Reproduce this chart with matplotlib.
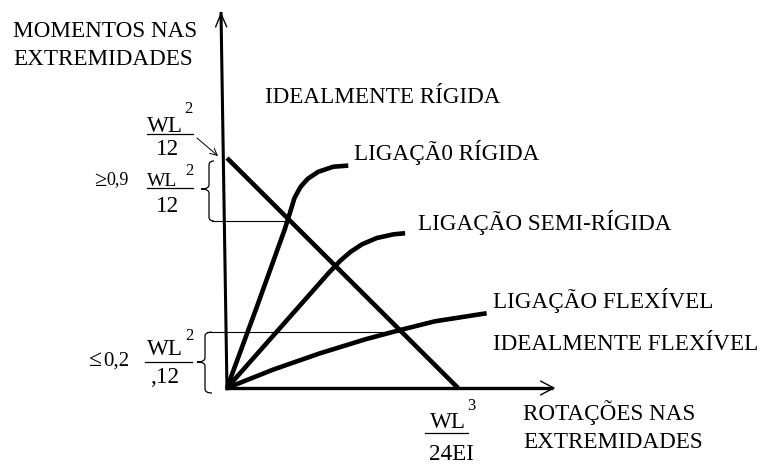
import matplotlib
matplotlib.use("Agg")
import matplotlib.pyplot as plt
from matplotlib.path import Path
from matplotlib.patches import PathPatch

plt.rcParams['font.family'] = ['Liberation Serif', 'DejaVu Serif']

# ---- data (normalised: M / (WL^2/12), theta / (WL^3/24EI)) ----
beam_theta = [0.0, 1.0]
beam_M = [1.0, 0.0]

rigid_theta = [0.0, 0.130, 0.250, 0.272, 0.292, 0.318, 0.350, 0.395, 0.460, 0.525]
rigid_M = [0.0, 0.355, 0.690, 0.760, 0.826, 0.874, 0.910, 0.940, 0.962, 0.967]

semi_theta = [0.0, 0.440, 0.490, 0.535, 0.585, 0.648, 0.720, 0.771]
semi_M = [0.0, 0.500, 0.553, 0.592, 0.625, 0.652, 0.668, 0.673]

flex_theta = [0.0, 0.200, 0.400, 0.600, 0.749, 0.900, 1.124]
flex_M = [0.0, 0.080, 0.150, 0.212, 0.252, 0.290, 0.325]

level_rigid = 0.726      # M at rigid / beam-line intersection
theta_rigid = 0.264
level_flex = 0.243       # M at flexible / beam-line intersection
theta_flex = 0.749

axis_theta_max = 1.411
axis_M_max = 1.635
axis_tilt = -0.026

label_M = ["MOMENTOS NAS", "EXTREMIDADES"]
label_theta = ["ROTAÇÕES NAS", "EXTREMIDADES"]
curve_labels = ["IDEALMENTE RÍGIDA", "LIGAÇÃ0 RÍGIDA", "LIGAÇÃO SEMI-RÍGIDA",
                "LIGAÇÃO FLEXÍVEL", "IDEALMENTE FLEXÍVEL"]

# ---- figure ----
W, H = 762, 467
fig = plt.figure(figsize=(W / 100, H / 100), dpi=100)
ax = fig.add_axes([0, 0, 1, 1])
OX, OY, SX, SY = 227.0, 388.0, 231.0, 230.0
ax.set_xlim(-OX / SX, (W - OX) / SX)
ax.set_ylim(-(H - OY) / SY, OY / SY)
ax.axis('off')


def P(x, y):
    """pixel position -> data position (for layout of annotations)."""
    return ((x - OX) / SX, (OY - y) / SY)


FS = 16.7
black = 'black'

# axes
ax.plot([0, axis_tilt], [-0.01, axis_M_max], color=black, lw=2.2, solid_capstyle='butt')
ax.plot([-0.01, axis_theta_max], [0, 0], color=black, lw=2.4, solid_capstyle='butt')
ax.annotate('', xy=(axis_tilt, axis_M_max), xytext=(axis_tilt * 0.97, axis_M_max - 0.07),
            arrowprops=dict(arrowstyle='->,head_length=0.95,head_width=0.4', lw=1.0,
                            color=black, mutation_scale=10, shrinkA=0, shrinkB=0))
ax.annotate('', xy=(axis_theta_max + 0.01, 0), xytext=(axis_theta_max - 0.06, 0),
            arrowprops=dict(arrowstyle='->,head_length=0.95,head_width=0.5', lw=1.0,
                            color=black, mutation_scale=10, shrinkA=0, shrinkB=0))

# curves
kw = dict(color=black, lw=3.3, solid_capstyle='butt', solid_joinstyle='round')
ax.plot(beam_theta, beam_M, **kw)
ax.plot(rigid_theta, rigid_M, **kw)
ax.plot(semi_theta, semi_M, **kw)
ax.plot(flex_theta, flex_M, **kw)

# thin reference lines
ax.plot([P(212, 0)[0], theta_rigid], [level_rigid, level_rigid], color=black, lw=0.8)
ax.plot([P(207, 0)[0], theta_flex], [level_flex, level_flex], color=black, lw=0.8)


def brace(x, y_top, y_bot, x_tip, y_tip, x_hook, r=0.018):
    verts = [(x_hook, y_top), (x, y_top), (x, y_top - r),
             (x, y_tip + r),
             (x, y_tip), (x_tip, y_tip),
             (x, y_tip), (x, y_tip - r),
             (x, y_bot + r),
             (x, y_bot), (x_hook, y_bot)]
    codes = [Path.MOVETO, Path.CURVE3, Path.CURVE3,
             Path.LINETO,
             Path.CURVE3, Path.CURVE3,
             Path.CURVE3, Path.CURVE3,
             Path.LINETO,
             Path.CURVE3, Path.CURVE3]
    ax.add_patch(PathPatch(Path(verts, codes), fill=False, lw=0.9, edgecolor=black))


bx, _ = P(209, 0)
btx, _ = P(201, 0)
bhx, _ = P(214, 0)
brace(bx, P(0, 161)[1], level_rigid, btx, P(0, 189)[1], bhx)
bx, _ = P(205, 0)
btx, _ = P(197, 0)
bhx, _ = P(212, 0)
brace(bx, level_flex, P(0, 393)[1], btx, P(0, 362)[1], bhx)


def txt(x, y, s, size=FS, ha='left', **k):
    ax.text(*P(x, y), s, fontsize=size, ha=ha, va='baseline', color=black, **k)


def hbar(x0, x1, y):
    (a, yy), (b, _) = P(x0, y), P(x1, y)
    ax.plot([a, b], [yy, yy], color=black, lw=0.9)


# axis labels
txt(13, 37, label_M[0])
txt(13, 65, label_M[1])
txt(523, 420, label_theta[0])
txt(523, 448, label_theta[1])

# curve labels
txt(265, 103, curve_labels[0])
txt(354, 160, curve_labels[1])
txt(418, 230, curve_labels[2])
txt(493, 308, curve_labels[3])
txt(493, 350, curve_labels[4])

# fraction WL^2/12
txt(147, 132, "WL")
txt(184, 113, "2", size=12)
hbar(147, 193, 134)
txt(168, 155, "12", ha='center')
ax.annotate('', xy=P(218, 156), xytext=P(197, 138),
            arrowprops=dict(arrowstyle='->,head_length=0.5,head_width=0.25', lw=0.7,
                            color=black, mutation_scale=10, shrinkA=0, shrinkB=0))

# >= 0,9 WL^2/12
txt(94, 186, "≥", size=16)
txt(106, 184, "0,9", size=13)
txt(147, 186, "WL", size=14)
txt(185, 175, "2", size=12)
hbar(147, 193, 188)
txt(168, 212, "12", ha='center')

# <= 0,2 WL^2/12
txt(89, 366, "≤", size=17)
txt(103, 366, "0,2", size=15)
txt(147, 355, "WL")
txt(185, 340, "2", size=12)
hbar(145, 192, 362)
txt(165, 383, ",12", ha='center')

# WL^3/24EI
txt(430, 428, "WL")
txt(467, 410, "3", size=12)
hbar(425, 468, 433)
txt(451, 460, "24EI", ha='center')

fig.savefig("out.png", dpi=100, facecolor='white')
